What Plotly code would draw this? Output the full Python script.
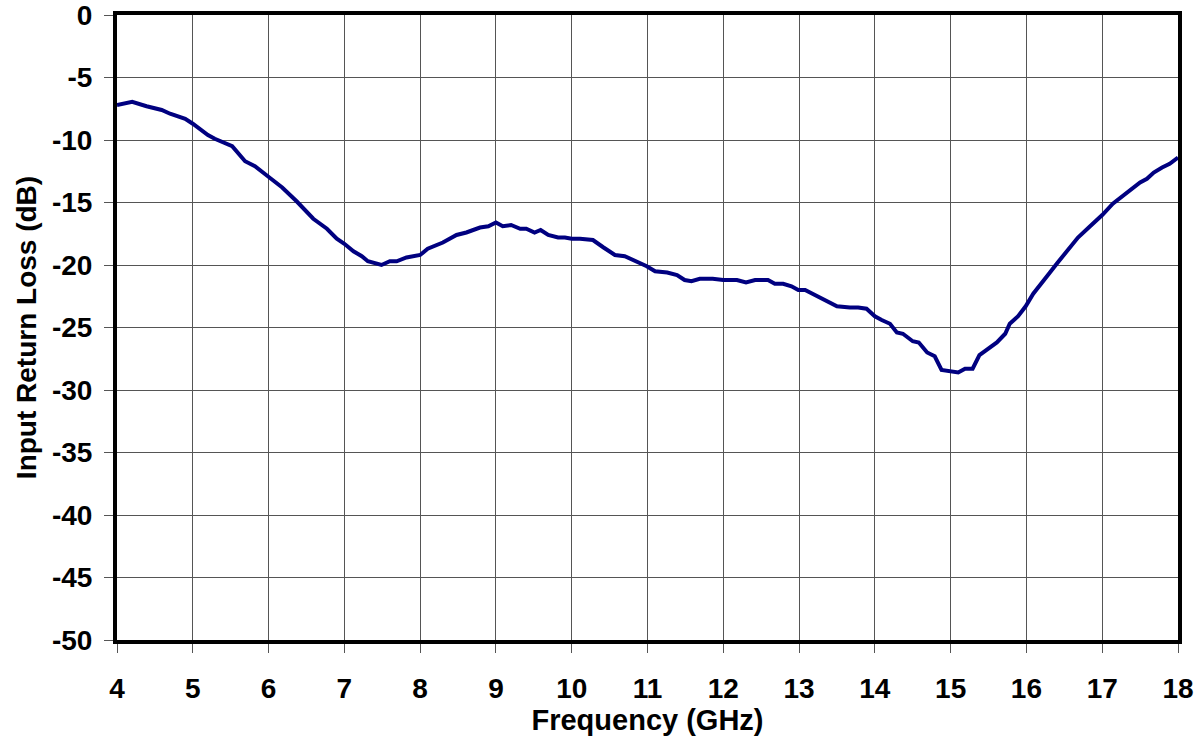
import plotly.graph_objects as go

freq_ghz = [4.0, 4.2, 4.39, 4.59, 4.7, 4.9, 5.0, 5.2, 5.29, 5.52, 5.69, 5.82, 5.99, 6.18, 6.37,
            6.59, 6.77, 6.9, 7.0, 7.12, 7.23, 7.31, 7.49, 7.6, 7.69, 7.82, 8.0, 8.1, 8.3, 8.48,
            8.61, 8.79, 8.9, 9.0, 9.09, 9.2, 9.32, 9.4, 9.51, 9.59, 9.69, 9.82, 9.91, 10.0, 10.11,
            10.28, 10.42, 10.57, 10.7, 10.86, 10.99, 11.1, 11.26, 11.39, 11.49, 11.58, 11.69,
            11.86, 12.0, 12.18, 12.3, 12.42, 12.59, 12.68, 12.79, 12.9, 12.99, 13.08, 13.18, 13.3,
            13.41, 13.5, 13.67, 13.78, 13.89, 14.0, 14.09, 14.2, 14.29, 14.37, 14.5, 14.58, 14.69,
            14.79, 14.88, 14.99, 15.1, 15.19, 15.29, 15.38, 15.49, 15.61, 15.72, 15.78, 15.89,
            15.99, 16.09, 16.2, 16.31, 16.4, 16.53, 16.68, 16.84, 17.0, 17.14, 17.3, 17.41, 17.5,
            17.59, 17.68, 17.79, 17.89, 18.0]
return_loss_db = [-7.2, -6.95, -7.3, -7.6, -7.9, -8.3, -8.7, -9.6, -9.9, -10.5, -11.7, -12.1, -12.9,
                  -13.8, -14.9, -16.3, -17.1, -17.9, -18.3, -18.9, -19.3, -19.7, -20.0, -19.7, -19.7,
                  -19.4, -19.2, -18.7, -18.2, -17.6, -17.4, -17.0, -16.9, -16.6, -16.9, -16.8, -17.1,
                  -17.1, -17.4, -17.2, -17.6, -17.8, -17.8, -17.9, -17.9, -18.0, -18.6, -19.2, -19.3,
                  -19.7, -20.1, -20.5, -20.6, -20.8, -21.2, -21.3, -21.1, -21.1, -21.2, -21.2, -21.4,
                  -21.2, -21.2, -21.5, -21.5, -21.7, -22.0, -22.0, -22.3, -22.7, -23.0, -23.3, -23.4,
                  -23.4, -23.5, -24.1, -24.4, -24.7, -25.4, -25.5, -26.1, -26.2, -27.0, -27.3, -28.4,
                  -28.5, -28.6, -28.3, -28.3, -27.2, -26.7, -26.2, -25.5, -24.7, -24.1, -23.3, -22.3,
                  -21.5, -20.6, -19.9, -18.9, -17.8, -16.9, -16.0, -15.1, -14.3, -13.8, -13.4, -13.1,
                  -12.6, -12.2, -11.9, -11.4]

x_ticks = list(range(4, 19))
x_tick_labels = [str(v) for v in x_ticks]
y_ticks = list(range(-50, 1, 5))
y_tick_labels = [str(v) for v in y_ticks]  # plain hyphen-minus as in the reference

fig = go.Figure()
fig.add_trace(go.Scatter(x=freq_ghz, y=return_loss_db, mode="lines",
                         line=dict(color="#000080", width=4), showlegend=False))

font_family = "Liberation Sans, Arial, sans-serif"
axis_common = dict(
    showline=True, linecolor="black", linewidth=4, mirror=True,
    showgrid=True, gridcolor="#555555", gridwidth=1,
    ticks="outside", ticklen=9, tickcolor="#555555", tickwidth=1,
    tickfont=dict(family=font_family, size=28, color="black", weight="bold"),
    zeroline=False, automargin=False, ticklabeloverflow="allow",
)

fig.update_layout(
    width=1201, height=744,
    margin=dict(l=117, r=23, t=15, b=104),
    paper_bgcolor="white", plot_bgcolor="white",
    xaxis=dict(range=[4, 18], tickvals=x_ticks, ticktext=x_tick_labels, ticklabelstandoff=11,
               title=dict(text="Frequency (GHz)", standoff=1,
                          font=dict(family=font_family, size=29, color="black", weight="bold")),
               **axis_common),
    yaxis=dict(range=[-50, 0], tickvals=y_ticks, ticktext=y_tick_labels, ticklabelstandoff=6,
               title=dict(text="Input Return Loss (dB)", standoff=8,
                          font=dict(family=font_family, size=28, color="black", weight="bold")),
               **axis_common),
)

fig.write_html("out.html", config={"displayModeBar": False})

# remove the default browser page margin so the figure sits at the page origin
with open("out.html", "r", encoding="utf-8") as f:
    html = f.read()
html = html.replace("<head>", "<head><style>html,body{margin:0;padding:0;overflow:hidden;}</style>", 1)
with open("out.html", "w", encoding="utf-8") as f:
    f.write(html)
